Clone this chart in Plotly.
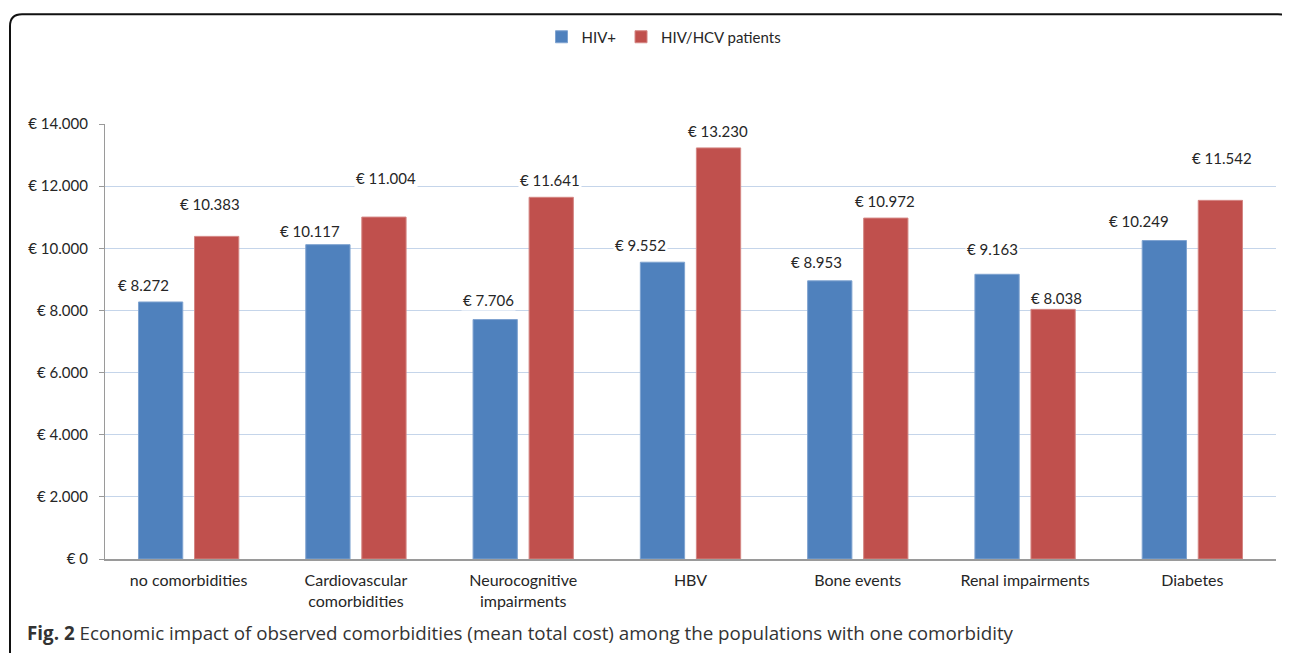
import plotly.graph_objects as go

categories = ["no comorbidities", "Cardiovascular<br>comorbidities", "Neurocognitive<br>impairments",
              "HBV", "Bone events", "Renal impairments", "Diabetes"]
hiv_plus = [8272, 10117, 7706, 9552, 8953, 9163, 10249]
hiv_hcv = [10383, 11004, 11641, 13230, 10972, 8038, 11542]
series_names = ["HIV+", "HIV/HCV patients"]
y_ticks = [0, 2000, 4000, 6000, 8000, 10000, 12000, 14000]

# label placement (pixel offsets, style only)
blue_dx = [-17, -18, -7, -22, -13, -5, -25]
blue_dy = [17, 14, 20, 17, 19, 25, 20]
red_dx = [-7, 2, -1, -1, -1, 3, 2]
red_dy = [32, 39, 17, 17, 17, 11, 42]

BLUE = "#4F81BD"
RED = "#C0504D"
FONT = "Lato"
TXT = "#262626"


def eur(v):
    s = f"{v:,}".replace(",", ".")
    return f"€ {s}"


fig = go.Figure()
fig.add_trace(go.Bar(x=categories, y=hiv_plus, name=series_names[0],
                     marker=dict(color=BLUE, line=dict(color="#7FA3D0", width=1))))
fig.add_trace(go.Bar(x=categories, y=hiv_hcv, name=series_names[1],
                     marker=dict(color=RED, line=dict(color="#D48683", width=1))))

annotations = []
for i, c in enumerate(categories):
    annotations.append(dict(x=c, y=hiv_plus[i], xref="x", yref="y", text=eur(hiv_plus[i]),
                            showarrow=False, xshift=-28 + blue_dx[i], yshift=blue_dy[i],
                            yanchor="middle", bgcolor="white", borderpad=1,
                            font=dict(family=FONT, size=15, color=TXT)))
    annotations.append(dict(x=c, y=hiv_hcv[i], xref="x", yref="y", text=eur(hiv_hcv[i]),
                            showarrow=False, xshift=28 + red_dx[i], yshift=red_dy[i],
                            yanchor="middle", bgcolor="white", borderpad=1,
                            font=dict(family=FONT, size=15, color=TXT)))


# page-pixel -> paper coordinates (page body has an 8px margin)
def px(x):
    return (x - 105) / 1171


def py(y):
    return (559 - y) / 440


# caption
annotations.append(dict(xref="paper", yref="paper", x=px(25), y=py(634),
                        xanchor="left", yanchor="middle", showarrow=False,
                        text="<b>Fig. 2</b> Economic impact of observed comorbidities (mean total cost) among the populations with one comorbidity",
                        font=dict(family="Open Sans", size=18.8, color="#333333")))

border_path = (f"M {px(10)} {py(670)} L {px(10)} {py(20)} Q {px(10)} {py(8)} {px(22)} {py(8)} "
               f"L {px(1278)} {py(8)} Q {px(1288)} {py(8)} {px(1291)} {py(14)}")

fig.update_layout(
    width=1282, height=645,
    margin=dict(l=97, r=14, t=111, b=94),
    paper_bgcolor="white", plot_bgcolor="white",
    barmode="group", bargap=0.33, bargroupgap=0.21,
    font=dict(family=FONT, size=15, color=TXT),
    legend=dict(orientation="h", x=px(664), xanchor="center", y=py(31), yanchor="middle",
                font=dict(family=FONT, size=15, color=TXT), itemwidth=30),
    annotations=annotations,
    shapes=[dict(type="path", xref="paper", yref="paper", path=border_path,
                 line=dict(color="#111111", width=2))],
    xaxis=dict(showgrid=False, showline=True, linecolor="#9A9A9A", linewidth=1.5,
               ticks="", tickfont=dict(family=FONT, size=16, color=TXT), ticklabelstandoff=6),
    yaxis=dict(range=[0, 14000], tickvals=y_ticks, ticktext=[eur(v) for v in y_ticks],
               showgrid=True, gridcolor="#C5D5EA", gridwidth=1.3, zeroline=False,
               showline=True, linecolor="#9A9A9A", linewidth=1.2,
               ticks="outside", ticklen=5, tickcolor="#9A9A9A",
               tickfont=dict(family=FONT, size=15, color=TXT), ticklabelstandoff=8),
)

fig.write_html("out.html")
